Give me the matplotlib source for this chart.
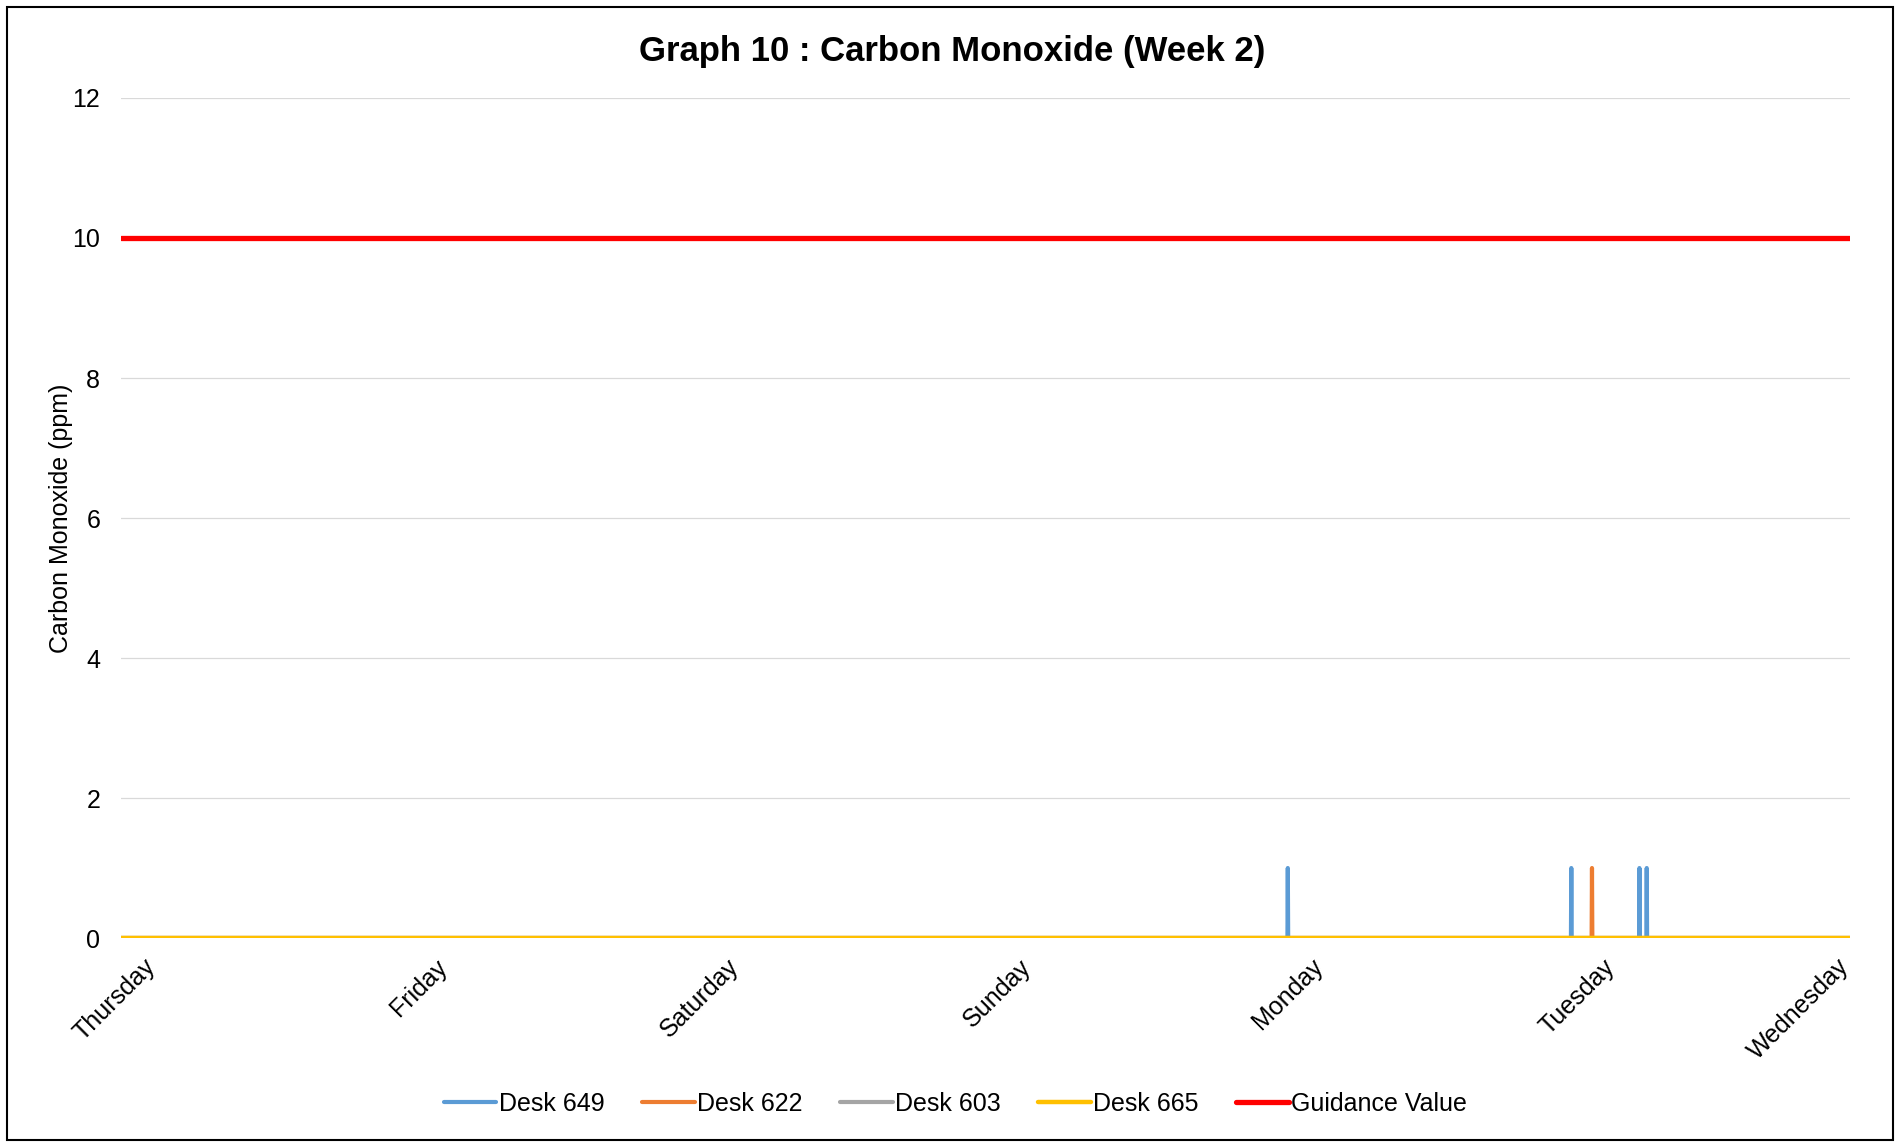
"""
Graph 10 : Carbon Monoxide (Week 2) - desk sensor readings against the guidance value.
"""
import matplotlib
matplotlib.use("Agg")
import matplotlib.pyplot as plt
from matplotlib.patches import Rectangle
from matplotlib.transforms import ScaledTranslation

plt.rcParams["font.family"] = ["Liberation Sans", "DejaVu Sans"]

# x is hours since Thursday 00:00
x_end = 142.1
day_labels = ["Thursday", "Friday", "Saturday", "Sunday", "Monday", "Tuesday", "Wednesday"]
day_hours = [0, 24, 48, 72, 96, 120, 139.2]

hours_649 = [0, 95.87, 95.9, 95.93, 119.17, 119.2, 119.23, 124.77, 124.8, 124.83,
             125.37, 125.4, 125.43, 142.1]
co_649 = [0, 0, 1, 0, 0, 1, 0, 0, 1, 0, 0, 1, 0, 0]

hours_622 = [0, 120.87, 120.9, 120.93, 142.1]
co_622 = [0, 0, 1, 0, 0]

hours_603 = [0, 142.1]
co_603 = [0, 0]

hours_665 = [0, 142.1]
co_665 = [0, 0]

guidance_hours = [0, 142.1]
guidance_value = [10, 10]

series = [
    ("Desk 649", hours_649, co_649, "#5B9BD5", 3.0),
    ("Desk 622", hours_622, co_622, "#ED7D31", 3.0),
    ("Desk 603", hours_603, co_603, "#A5A5A5", 3.0),
    ("Desk 665", hours_665, co_665, "#FFC000", 3.2),
    ("Guidance Value", guidance_hours, guidance_value, "#FF0000", 3.8),
]

FS = 18


def main():
    fig = plt.figure(figsize=(18.96, 11.42), dpi=100)
    ax = fig.add_axes([0.0638, 0.1786, 0.9119, 0.7356])

    for name, xs, ys, color, lw in series:
        ax.plot(xs, ys, color=color, lw=lw, label=name, solid_capstyle="round")

    ax.set_xlim(0, x_end)
    ax.set_ylim(0, 12)
    ax.set_yticks(range(0, 13, 2))
    ax.grid(axis="y", color="#D9D9D9", lw=0.9)
    ax.set_axisbelow(True)
    for s in ax.spines.values():
        s.set_visible(False)

    ax.tick_params(axis="y", length=0, pad=15, labelsize=FS)
    ax.tick_params(axis="x", length=0, pad=12, labelsize=FS)
    ax.set_xticks(day_hours)
    ax.set_xticklabels(day_labels, rotation=45, ha="right", rotation_mode="anchor")
    shift = ScaledTranslation(0.22, 0, fig.dpi_scale_trans)
    for lab in ax.get_xticklabels():
        lab.set_transform(lab.get_transform() + shift)

    ax.set_ylabel("Carbon Monoxide (ppm)", fontsize=FS)
    ax.yaxis.set_label_coords(-0.028, 0.5)

    fig.suptitle("Graph 10 : Carbon Monoxide (Week 2)", fontsize=25, fontweight="bold",
                 x=0.502, y=0.955, va="center")

    fig.legend(loc="center", bbox_to_anchor=(0.504, 0.0333), ncol=5, frameon=False,
               fontsize=FS, handlelength=2.1, handletextpad=0.1, columnspacing=1.5)

    fig.patches.append(Rectangle((7 / 1896, 2 / 1142), 1886 / 1896, 1133 / 1142,
                                 transform=fig.transFigure, fill=False,
                                 edgecolor="#000000", lw=1.5))

    fig.savefig("out.png", dpi=100)


if __name__ == "__main__":
    main()
